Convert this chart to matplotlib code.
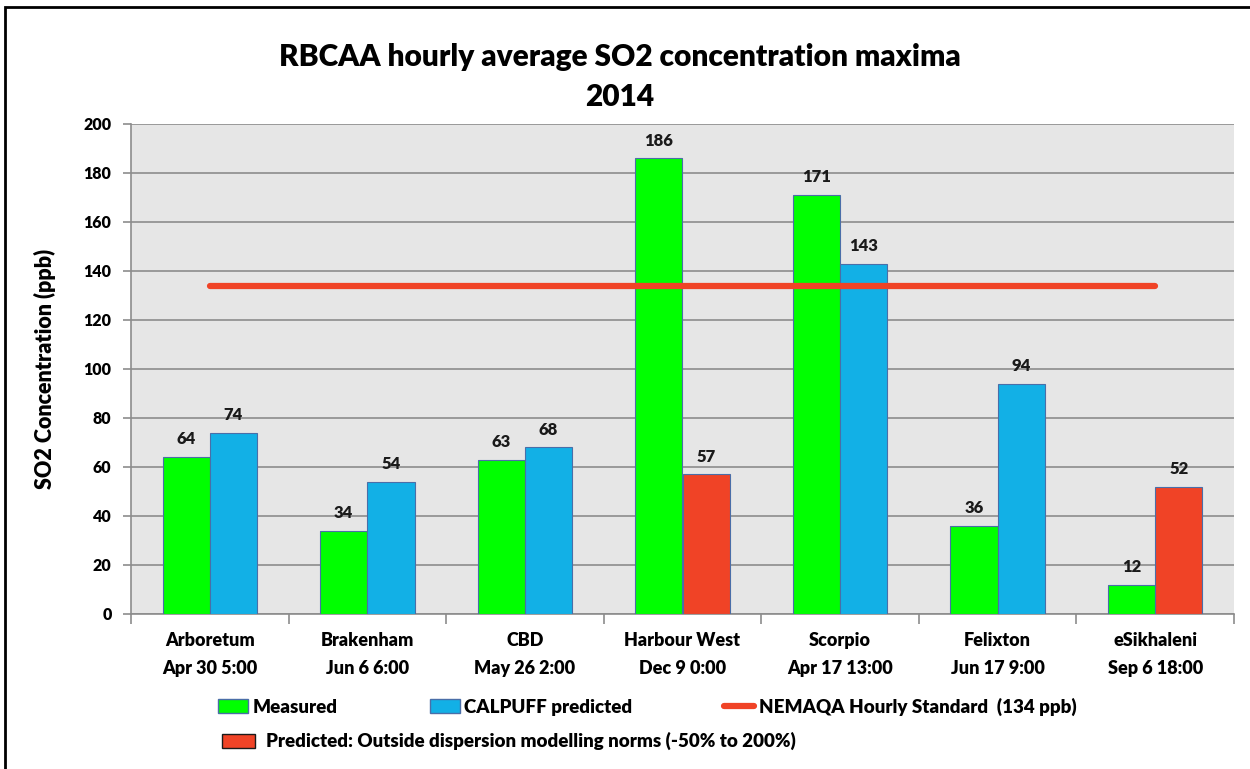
import matplotlib
matplotlib.use("Agg")
import numpy as np
from matplotlib import pyplot as plt
from matplotlib.patches import Patch, Rectangle
from matplotlib.lines import Line2D

# Monitoring stations and time of the hourly maximum
stations = ["Arboretum", "Brakenham", "CBD", "Harbour West", "Scorpio", "Felixton", "eSikhaleni"]
times = ["Apr 30 5:00", "Jun 6 6:00", "May 26 2:00", "Dec 9 0:00", "Apr 17 13:00", "Jun 17 9:00", "Sep 6 18:00"]
measured = [64, 34, 63, 186, 171, 36, 12]
predicted = [74, 54, 68, 57, 143, 94, 52]
outside_norms = [False, False, False, True, False, False, True]
standard = 134

GREEN = "#00FF00"
BLUE = "#12B0E6"
RED = "#F04326"
EDGE = "#4A6EA8"
W = "heavy"

plt.rcParams["font.family"] = ["Lato", "DejaVu Sans"]
plt.rcParams["font.weight"] = W

fig = plt.figure(figsize=(12.5, 7.69), dpi=100)
ax = fig.add_axes([0.1048, 0.2016, 0.8824, 0.6372])
ax.set_facecolor("#E6E6E6")

x = np.arange(len(stations))
width = 0.3
pred_colors = [RED if flag else BLUE for flag in outside_norms]

ax.bar(x - width / 2, measured, width, color=GREEN, edgecolor=EDGE, linewidth=0.8, zorder=3)
ax.bar(x + width / 2, predicted, width, color=pred_colors, edgecolor=EDGE, linewidth=0.8, zorder=3)
ax.plot([x[0], x[-1]], [standard, standard], color=RED, linewidth=4.5,
        solid_capstyle="round", zorder=4)

for xi, val in zip(x - width / 2, measured):
    ax.annotate(str(val), (xi, val), xytext=(0, 7), textcoords="offset points",
                ha="center", va="bottom", fontsize=12, fontweight=W, color="#1a1a1a")
for xi, val in zip(x + width / 2, predicted):
    ax.annotate(str(val), (xi, val), xytext=(0, 7), textcoords="offset points",
                ha="center", va="bottom", fontsize=12, fontweight=W, color="#1a1a1a")

ax.set_xlim(-0.5, len(stations) - 0.5)
ax.set_ylim(0, 200)
ax.set_yticks(np.arange(0, 201, 20))
ax.yaxis.grid(True, color="#8C8C8C", linewidth=1.2, zorder=0)
ax.set_axisbelow(True)

# category ticks sit between the groups, labels sit at group centres
ax.set_xticks(np.arange(-0.5, len(stations)), minor=False)
ax.set_xticklabels([])
ax.set_xticks(x, minor=True)
ax.set_xticklabels([f"{s}\n{t}" for s, t in zip(stations, times)], minor=True,
                   fontsize=13, fontweight=W, linespacing=1.75)
ax.tick_params(axis="x", which="minor", length=0, pad=13)
ax.tick_params(axis="x", which="major", length=7, color="#8C8C8C", width=1.2)
ax.tick_params(axis="y", length=6, color="#8C8C8C", width=1.2, labelsize=11.5, pad=8)
for lbl in ax.get_yticklabels():
    lbl.set_fontweight(W)

for side in ("top", "right"):
    ax.spines[side].set_visible(False)
for side in ("left", "bottom"):
    ax.spines[side].set_color("#8C8C8C")
    ax.spines[side].set_linewidth(1.2)

ax.set_ylabel("SO2 Concentration (ppb)", fontsize=15.5, fontweight=W, labelpad=20)

fig.text(0.496, 0.926, "RBCAA hourly average SO2 concentration maxima",
         ha="center", va="center", fontsize=21.5, fontweight=W)
fig.text(0.496, 0.874, "2014", ha="center", va="center", fontsize=21.5, fontweight=W)

handles_top = [
    Patch(facecolor=GREEN, edgecolor=EDGE, label="Measured"),
    Patch(facecolor=BLUE, edgecolor=EDGE, label="CALPUFF predicted"),
    Line2D([], [], color=RED, linewidth=4.5, solid_capstyle="round",
           label="NEMAQA Hourly Standard  (134 ppb)"),
]
leg1 = fig.legend(handles=handles_top, loc="center left", bbox_to_anchor=(0.161, 0.081),
                  ncol=3, frameon=False, fontsize=13.5, handlelength=1.6, handleheight=0.8,
                  handletextpad=0.25, columnspacing=4.9)
for t in leg1.get_texts():
    t.set_fontweight(W)
leg2 = fig.legend(handles=[Patch(facecolor=RED, edgecolor="#1a1a1a",
                                 label="Predicted: Outside dispersion modelling norms (-50% to 200%)")],
                  loc="center left", bbox_to_anchor=(0.164, 0.036), frameon=False, fontsize=13.5,
                  handlelength=1.75, handleheight=0.8, handletextpad=0.6)
for t in leg2.get_texts():
    t.set_fontweight(W)

fig.patches.append(Rectangle((0.004, -0.02), 1.02, 1.011, transform=fig.transFigure,
                             fill=False, edgecolor="black", linewidth=2))

fig.savefig("out.png", dpi=100)
